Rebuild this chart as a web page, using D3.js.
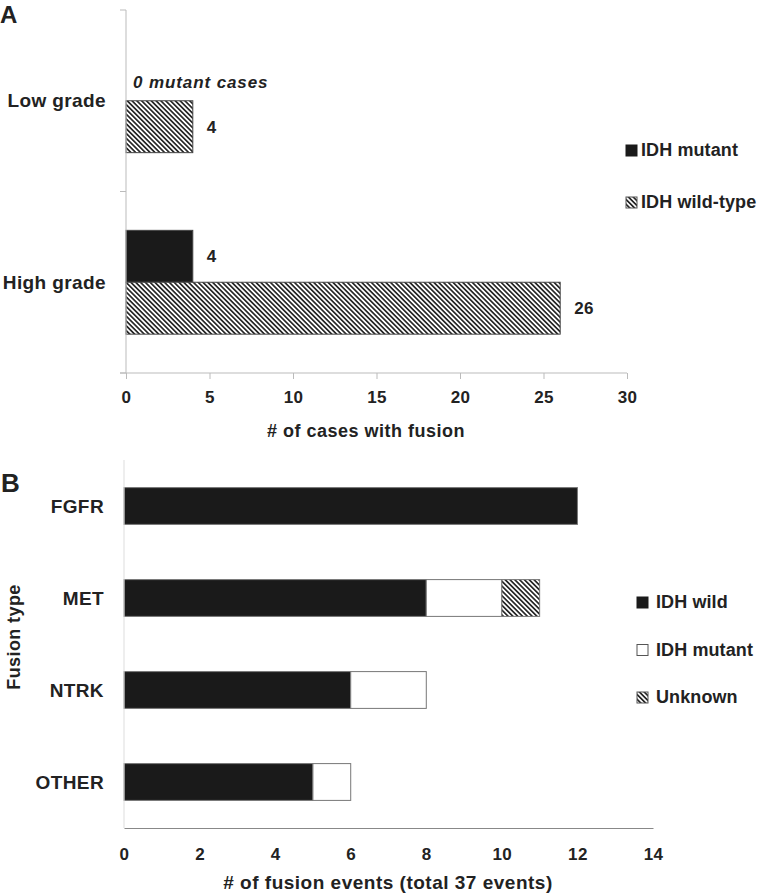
<!DOCTYPE html>
<html>
<head>
<meta charset="utf-8">
<script src="https://cdn.jsdelivr.net/npm/d3@7"></script>
<style>
  body { margin: 0; background: #fff; }
  text { font-family: "Liberation Sans", Arial, sans-serif; font-weight: bold; fill: #222; letter-spacing: 0.4px; }
</style>
</head>
<body>
<div id="chart"></div>
<script>
// panel A
var gradeCats = ['Low grade', 'High grade'];
var gradeSeries = ['IDH mutant', 'IDH wild-type'];
var gradeMutant = [0, 4];
var gradeWild = [4, 26];
var gradeTicks = [0, 5, 10, 15, 20, 25, 30];

// panel B
var fusionCats = ['FGFR', 'MET', 'NTRK', 'OTHER'];
var fusionSeries = ['IDH wild', 'IDH mutant', 'Unknown'];
var fusionWild = [12, 8, 6, 5];
var fusionMutant = [0, 2, 2, 1];
var fusionUnknown = [0, 1, 0, 0];
var fusionTicks = [0, 2, 4, 6, 8, 10, 12, 14];

var width = 762, height = 893;
var black = '#1a1a1a';

var svg = d3.select('#chart').append('svg')
  .attr('width', width)
  .attr('height', height);

var defs = svg.append('defs');
defs.append('pattern')
  .attr('id', 'hatch')
  .attr('patternUnits', 'userSpaceOnUse')
  .attr('width', 3.4).attr('height', 3.4)
  .attr('patternTransform', 'rotate(45)')
  .call(function(p) {
    p.append('rect').attr('width', 3.4).attr('height', 3.4).attr('fill', '#fff');
    p.append('line').attr('x1', 0).attr('y1', 1.7).attr('x2', 3.4).attr('y2', 1.7)
      .attr('stroke', black).attr('stroke-width', 1.6);
  });

// ---------- A ----------
var xA = d3.scaleLinear().domain([0, 30]).range([126, 627]);
var yA = d3.scaleBand().domain(gradeCats).range([10, 373]);
var bw = yA.bandwidth();
var ySub = d3.scaleBand().domain(gradeSeries).range([bw * 0.214, bw * 0.786]);
var fillA = { 'IDH mutant': black, 'IDH wild-type': 'url(#hatch)' };

var gA = svg.append('g');

var rowsA = [];
gradeCats.forEach(function(c, i) {
  rowsA.push({ cat: c, s: 'IDH mutant', v: gradeMutant[i] });
  rowsA.push({ cat: c, s: 'IDH wild-type', v: gradeWild[i] });
});

gA.selectAll('rect.bar').data(rowsA.filter(function(d) { return d.v > 0; })).enter()
  .append('rect').attr('class', 'bar')
  .attr('x', xA(0))
  .attr('y', function(d) { return yA(d.cat) + ySub(d.s); })
  .attr('width', function(d) { return xA(d.v) - xA(0); })
  .attr('height', ySub.bandwidth())
  .attr('fill', function(d) { return fillA[d.s]; })
  .attr('stroke', '#444').attr('stroke-width', 1);

gA.selectAll('text.val').data(rowsA.filter(function(d) { return d.v > 0; })).enter()
  .append('text').attr('class', 'val')
  .attr('x', function(d) { return xA(d.v) + 14; })
  .attr('y', function(d) { return yA(d.cat) + ySub(d.s) + ySub.bandwidth() / 2; })
  .attr('dy', '0.35em')
  .style('font-size', '17px')
  .text(function(d) { return d.v; });

gA.append('text')
  .attr('x', xA(0) + 7)
  .attr('y', yA('Low grade') + ySub('IDH mutant') + ySub.bandwidth() - 13)
  .style('font-size', '17px').style('font-style', 'italic').style('letter-spacing', '0.9px')
  .text('0 mutant cases');

// axes A
gA.append('line').attr('x1', xA(0)).attr('x2', xA(0)).attr('y1', 10).attr('y2', 373)
  .attr('stroke', '#bbb');
gA.selectAll('line.ytick').data([10, 10 + bw, 373]).enter()
  .append('line').attr('x1', xA(0) - 6).attr('x2', xA(0))
  .attr('y1', function(d) { return d; }).attr('y2', function(d) { return d; })
  .attr('stroke', '#bbb');
var axA = gA.append('g').attr('transform', 'translate(0,373)')
  .call(d3.axisBottom(xA).tickValues(gradeTicks).tickSize(6).tickPadding(12));
axA.select('.domain').remove();
axA.selectAll('line').attr('stroke', '#bbb');
axA.selectAll('text').style('font-size', '17px').attr('fill', '#222').style('font-family', null);
gA.append('line').attr('x1', 120).attr('x2', xA(30)).attr('y1', 373).attr('y2', 373)
  .attr('stroke', '#bbb');

gA.selectAll('text.cat').data(gradeCats).enter()
  .append('text').attr('class', 'cat')
  .attr('x', 106)
  .attr('y', function(d) { return yA(d) + bw / 2; })
  .attr('dy', '0.35em')
  .attr('text-anchor', 'end')
  .style('font-size', '19px').style('letter-spacing', '0.4px')
  .text(function(d) { return d; });

gA.append('text').attr('x', 366).attr('y', 437)
  .attr('text-anchor', 'middle').style('font-size', '18px').style('letter-spacing', '0.5px')
  .text('# of  cases with fusion');

svg.append('text').attr('x', 0).attr('y', 23).style('font-size', '24px').text('A');

// legend A
var legA = svg.selectAll('g.legA').data(gradeSeries).enter()
  .append('g').attr('class', 'legA')
  .attr('transform', function(d, i) { return 'translate(626,' + (145 + i * 52) + ')'; });
legA.append('rect').attr('width', 11).attr('height', 11)
  .attr('fill', function(d) { return fillA[d]; })
  .attr('stroke', function(d) { return d === 'IDH mutant' ? black : '#555'; });
legA.append('text').attr('x', 15).attr('y', 11).style('font-size', '18px').style('letter-spacing', '0.1px')
  .text(function(d) { return d; });

// ---------- B ----------
var xB = d3.scaleLinear().domain([0, 14]).range([124, 653]);
var yB = d3.scaleBand().domain(fusionCats).range([460, 828]).paddingInner(0.6).paddingOuter(0.3);
var fillB = { 'IDH wild': black, 'IDH mutant': '#fff', 'Unknown': 'url(#hatch)' };

var tableB = fusionCats.map(function(c, i) {
  return { cat: c, 'IDH wild': fusionWild[i], 'IDH mutant': fusionMutant[i], 'Unknown': fusionUnknown[i] };
});
var stackB = d3.stack().keys(fusionSeries)(tableB);

var gB = svg.append('g');

gB.selectAll('g.layer').data(stackB).enter()
  .append('g').attr('class', 'layer')
  .attr('fill', function(d) { return fillB[d.key]; })
  .selectAll('rect').data(function(d) { return d.filter(function(e) { return e[1] > e[0]; }); }).enter()
  .append('rect')
  .attr('x', function(d) { return xB(d[0]); })
  .attr('y', function(d) { return yB(d.data.cat); })
  .attr('width', function(d) { return xB(d[1]) - xB(d[0]); })
  .attr('height', yB.bandwidth())
  .attr('stroke', '#777').attr('stroke-width', 1);

gB.append('line').attr('x1', xB(0)).attr('x2', xB(0)).attr('y1', 460).attr('y2', 828)
  .attr('stroke', '#ddd');
var axB = gB.append('g').attr('transform', 'translate(0,828)')
  .call(d3.axisBottom(xB).tickValues(fusionTicks).tickSize(0).tickPadding(20));
axB.select('.domain').attr('stroke', '#888');
axB.selectAll('text').style('font-size', '17px').attr('fill', '#222').style('font-family', null);

gB.selectAll('text.cat').data(fusionCats).enter()
  .append('text').attr('class', 'cat')
  .attr('x', 104)
  .attr('y', function(d) { return yB(d) + yB.bandwidth() / 2; })
  .attr('dy', '0.35em')
  .attr('text-anchor', 'end')
  .style('font-size', '19px')
  .text(function(d) { return d; });

gB.append('text').attr('x', 388).attr('y', 889)
  .attr('text-anchor', 'middle').style('font-size', '19px').style('letter-spacing', '0.5px')
  .text('# of  fusion events (total 37 events)');

gB.append('text').attr('transform', 'translate(20,637) rotate(-90)')
  .attr('text-anchor', 'middle').style('font-size', '18px')
  .text('Fusion type');

svg.append('text').attr('x', 1).attr('y', 492).style('font-size', '26px').text('B');

// legend B
var legB = svg.selectAll('g.legB').data(fusionSeries).enter()
  .append('g').attr('class', 'legB')
  .attr('transform', function(d, i) { return 'translate(637,' + (597 + i * 47.5) + ')'; });
legB.append('rect').attr('width', 11).attr('height', 11)
  .attr('fill', function(d) { return fillB[d]; })
  .attr('stroke', function(d) { return d === 'IDH wild' ? black : '#555'; });
legB.append('text').attr('x', 19).attr('y', 11).style('font-size', '18px').style('letter-spacing', '0.1px')
  .text(function(d) { return d; });
</script>
</body>
</html>
